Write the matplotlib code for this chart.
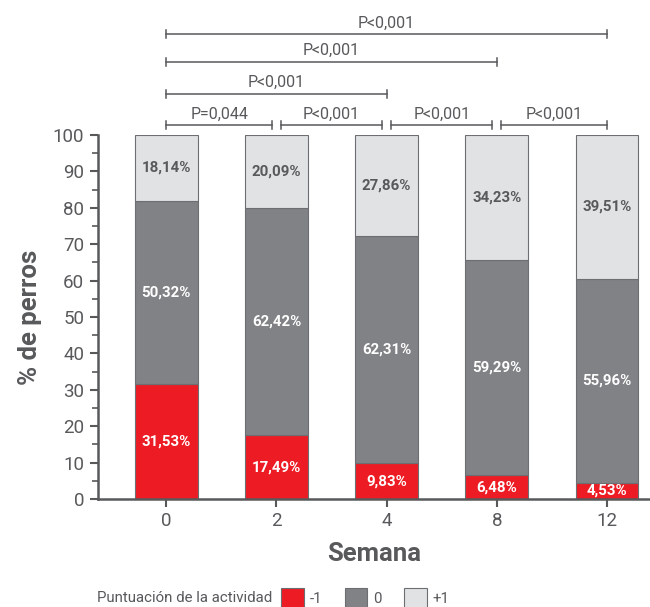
import numpy as np
import matplotlib.pyplot as plt
from matplotlib.patches import Patch

plt.rcParams['font.family'] = ['Roboto', 'DejaVu Sans']

# data
semanas = ['0', '2', '4', '8', '12']
menos1 = [31.53, 17.49, 9.83, 6.48, 4.53]
cero = [50.32, 62.42, 62.31, 59.29, 55.96]
mas1 = [18.14, 20.09, 27.86, 34.23, 39.51]
etiquetas_menos1 = ['31,53%', '17,49%', '9,83%', '6,48%', '4,53%']
etiquetas_cero = ['50,32%', '62,42%', '62,31%', '59,29%', '55,96%']
etiquetas_mas1 = ['18,14%', '20,09%', '27,86%', '34,23%', '39,51%']

# comparisons: (from, to, text, level)
comparaciones = [
    (0, 1, 'P=0,044', 102.7),
    (1, 2, 'P<0,001', 102.7),
    (2, 3, 'P<0,001', 102.7),
    (3, 4, 'P<0,001', 102.7),
    (0, 2, 'P<0,001', 111.3),
    (0, 3, 'P<0,001', 120.1),
    (0, 4, 'P<0,001', 127.7),
]

ROJO = '#ED1C24'
GRIS = '#808285'
CLARO = '#E1E2E4'
TXT = '#58595B'
EDGE = '#6D6E71'

fig = plt.figure(figsize=(6.5, 6.07), dpi=100)
ax = fig.add_axes([98 / 650, 1 - 499 / 607, 1 - 98 / 650, (499 - 135) / 607])

x = np.arange(len(semanas))
w = 0.57
ax.bar(x, menos1, w, color=ROJO, edgecolor=EDGE, linewidth=0.8)
ax.bar(x, cero, w, bottom=menos1, color=GRIS, edgecolor=EDGE, linewidth=0.8)
base2 = np.array(menos1) + np.array(cero)
ax.bar(x, mas1, w, bottom=base2, color=CLARO, edgecolor=EDGE, linewidth=0.8)

for i in range(len(x)):
    ax.text(x[i], menos1[i] / 2, etiquetas_menos1[i], ha='center', va='center',
            color='white', fontsize=10.8, fontweight='bold')
    ax.text(x[i], menos1[i] + cero[i] / 2, etiquetas_cero[i], ha='center', va='center',
            color='white', fontsize=10.8, fontweight='bold')
    ax.text(x[i], base2[i] + mas1[i] / 2, etiquetas_mas1[i], ha='center', va='center',
            color=TXT, fontsize=10.8, fontweight='bold')

# significance brackets
gap = 0.04
for a, b, txt, lvl in comparaciones:
    xa = a + (gap if a > 0 and b - a == 1 else 0)
    xb = b - (gap if b < 4 and b - a == 1 else 0)
    ax.plot([xa, xb], [lvl, lvl], color=TXT, lw=1.1, clip_on=False)
    ax.plot([xa, xa], [lvl - 1.1, lvl + 1.1], color=TXT, lw=1.1, clip_on=False)
    ax.plot([xb, xb], [lvl - 1.1, lvl + 1.1], color=TXT, lw=1.1, clip_on=False)
    ax.text((xa + xb) / 2, lvl + 1.0, txt, ha='center', va='bottom',
            color=TXT, fontsize=11.5)

ax.set_xlim(-0.62, 4.39)
ax.set_ylim(0, 100)
ax.set_xticks(x)
ax.set_xticklabels(semanas)
ax.set_yticks(np.arange(0, 101, 10))
ax.set_yticks(np.arange(5, 100, 10), minor=True)

for s in ['top', 'right']:
    ax.spines[s].set_visible(False)
for s in ['left', 'bottom']:
    ax.spines[s].set_color(TXT)
    ax.spines[s].set_linewidth(1.8)

ax.tick_params(axis='y', which='major', length=6, width=1.5, color=TXT,
               labelcolor=TXT, labelsize=13.5, pad=4)
ax.tick_params(axis='y', which='minor', length=4, width=1.2, color=TXT)
ax.tick_params(axis='x', length=6, width=1.5, color=TXT, labelcolor=TXT,
               labelsize=13.5, pad=3)

ax.set_ylabel('% de perros', fontsize=18.5, fontweight='bold', color=TXT, labelpad=8)
ax.set_xlabel('Semana', fontsize=18.5, fontweight='bold', color=TXT, labelpad=9)

fig.text(97 / 650, 1 - 598 / 607, 'Puntuación de la actividad', fontsize=10.8,
         color=TXT, va='center', ha='left')
handles = [Patch(facecolor=ROJO, edgecolor=EDGE, lw=0.8),
           Patch(facecolor=GRIS, edgecolor=EDGE, lw=0.8),
           Patch(facecolor=CLARO, edgecolor=EDGE, lw=0.8)]
fig.legend(handles, ['-1', '0', '+1'], loc='center left',
           bbox_to_anchor=(281 / 650, 1 - 598 / 607), ncol=3, frameon=False,
           fontsize=10.8, labelcolor=TXT, handlelength=1.5, handleheight=1.7,
           handletextpad=0.4, columnspacing=1.5, borderaxespad=0, borderpad=0)

fig.savefig('out.png', dpi=100)
